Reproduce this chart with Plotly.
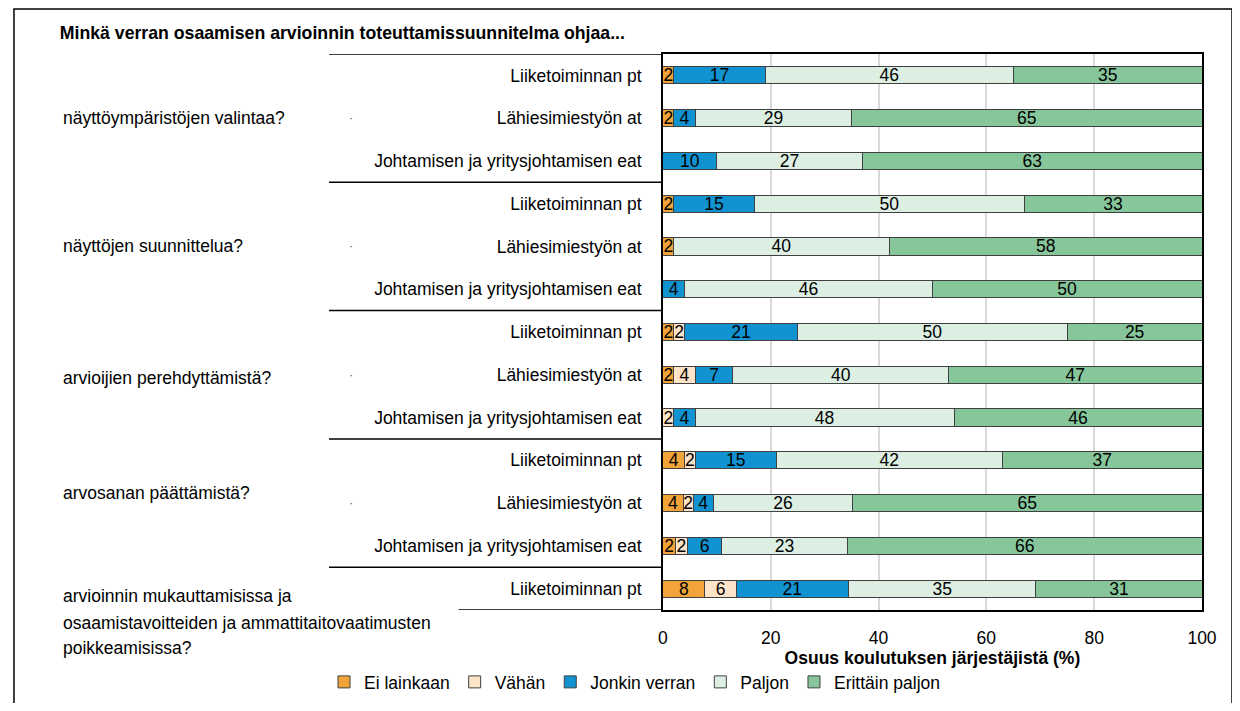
import plotly.graph_objects as go

# Rows from top to bottom (three programmes per question, one in the last group)
programmes = [
    "Liiketoiminnan pt", "Lähiesimiestyön at", "Johtamisen ja yritysjohtamisen eat",
    "Liiketoiminnan pt", "Lähiesimiestyön at", "Johtamisen ja yritysjohtamisen eat",
    "Liiketoiminnan pt", "Lähiesimiestyön at", "Johtamisen ja yritysjohtamisen eat",
    "Liiketoiminnan pt", "Lähiesimiestyön at", "Johtamisen ja yritysjohtamisen eat",
    "Liiketoiminnan pt",
]
questions = [
    "näyttöympäristöjen valintaa?",
    "näyttöjen suunnittelua?",
    "arvioijien perehdyttämistä?",
    "arvosanan päättämistä?",
    "arvioinnin mukauttamisissa ja<br>osaamistavoitteiden ja ammattitaitovaatimusten<br>poikkeamisissa?",
]
question_rows = [1, 4, 7, 10, 12]

series_names = ["Ei lainkaan", "Vähän", "Jonkin verran", "Paljon", "Erittäin paljon"]

ei_lainkaan = [2, 2, None, 2, 2, None, 2, 2, None, 4, 3.8, 2.3, 7.8]
vahan = [None, None, None, None, None, None, 2, 4, 2, 2, 1.8, 2.3, 5.8]
jonkin_verran = [17, 4, 10, 15, None, 4, 21, 7, 4, 15, 3.8, 6.3, 20.8]
paljon = [46, 29, 27, 50, 40, 46, 50, 40, 48, 42, 25.8, 23.3, 34.8]
erittain_paljon = [35, 65, 63, 33, 58, 50, 25, 47, 46, 37, 64.8, 65.8, 30.8]

x_ticks = [0, 20, 40, 60, 80, 100]

colors = ["#F2A33A", "#FDE3C8", "#1193D2", "#DDEFE3", "#86C69A"]

FONT = "Liberation Sans, Arial, sans-serif"
FS = 17.5
# page body keeps an 8px margin and the capture comes out slightly narrower horizontally
OFF = 8
SX = 1256 / 1240
W, H = 1240, 711 - 2 * OFF


def px_x(v):
    return (v * SX - OFF) / W


def px_y(v):
    return 1 - (v - OFF) / H


rows = list(range(len(programmes)))
fig = go.Figure()
for name, vals, col in zip(series_names,
                           [ei_lainkaan, vahan, jonkin_verran, paljon, erittain_paljon],
                           colors):
    fig.add_trace(go.Bar(
        name=name,
        y=rows,
        x=vals,
        orientation="h",
        width=0.4,
        marker=dict(color=col, line=dict(color="#404040", width=1)),
        texttemplate="%{x:.0f}",
        textposition="inside",
        insidetextanchor="middle",
        textangle=0,
        constraintext="none",
        textfont=dict(family=FONT, size=FS, color="black"),
        hoverinfo="x+name",
    ))

shapes = []
# group separators on the left side
for yb in [-0.5, 2.5, 5.5, 8.5, 11.5]:
    shapes.append(dict(type="line", xref="paper", yref="y",
                       x0=px_x(325), x1=px_x(660), y0=yb, y1=yb,
                       line=dict(color="black", width=1.5)))
shapes.append(dict(type="line", xref="paper", yref="y",
                   x0=px_x(455), x1=px_x(660), y0=12.5, y1=12.5,
                   line=dict(color="black", width=1.5)))
# outer frame
shapes.append(dict(type="rect", xref="paper", yref="paper",
                   x0=0.0008, x1=0.9992, y0=-0.05, y1=0.9985,
                   line=dict(color="black", width=1.5)))

annotations = []
shifts = [0, 0, -3, 10]
for q, r, s in zip(questions[:4], question_rows[:4], shifts):
    annotations.append(dict(text=q, xref="paper", yref="y", x=px_x(56), y=r,
                            xanchor="left", yanchor="middle", showarrow=False,
                            align="left", yshift=s,
                            font=dict(family=FONT, size=FS, color="black")))
# last question is long, its three lines are placed one by one
for line, s in zip(questions[4].split("<br>"), [-7, -34, -59]):
    annotations.append(dict(text=line, xref="paper", yref="y", x=px_x(56), y=question_rows[4],
                            xanchor="left", yanchor="middle", showarrow=False,
                            align="left", yshift=s,
                            font=dict(family=FONT, size=FS, color="black")))
for r in question_rows[:4]:
    annotations.append(dict(text="·", xref="paper", yref="y", x=px_x(343), y=r,
                            showarrow=False, font=dict(family=FONT, size=12, color="#555")))

fig.update_layout(
    width=W, height=H, autosize=False,
    barmode="stack",
    plot_bgcolor="white", paper_bgcolor="white",
    margin=dict(l=0, r=0, t=0, b=0),
    font=dict(family=FONT, size=FS, color="black"),
    title=dict(text="<b>Minkä verran osaamisen arvioinnin toteuttamissuunnitelma ohjaa...</b>",
               x=px_x(59), xanchor="left", y=px_y(33), yanchor="middle",
               font=dict(family=FONT, size=17.7, color="black")),
    xaxis=dict(domain=[px_x(660), px_x(1201)], range=[0, 100],
               tickvals=x_ticks, ticks="", showgrid=True, gridcolor="#D9D9D9", gridwidth=1.5,
               showline=True, linecolor="black", linewidth=1.5, mirror=True,
               zeroline=False, ticklabelstandoff=11,
               title=dict(text="<b>Osuus koulutuksen järjestäjistä (%)</b>", standoff=4,
                          font=dict(family=FONT, size=FS))),
    yaxis=dict(domain=[px_y(610), px_y(54)], range=[12.5, -0.5],
               tickvals=rows, ticktext=programmes, ticks="",
               showline=True, linecolor="black", linewidth=1.5, mirror=True,
               showgrid=False, zeroline=False, ticklabelstandoff=16),
    legend=dict(orientation="h", x=px_x(320), xanchor="left", y=px_y(682), yanchor="middle",
                font=dict(family=FONT, size=FS), traceorder="normal",
                itemwidth=30, bgcolor="rgba(0,0,0,0)"),
    shapes=shapes,
    annotations=annotations,
)

fig.write_html("out.html")
